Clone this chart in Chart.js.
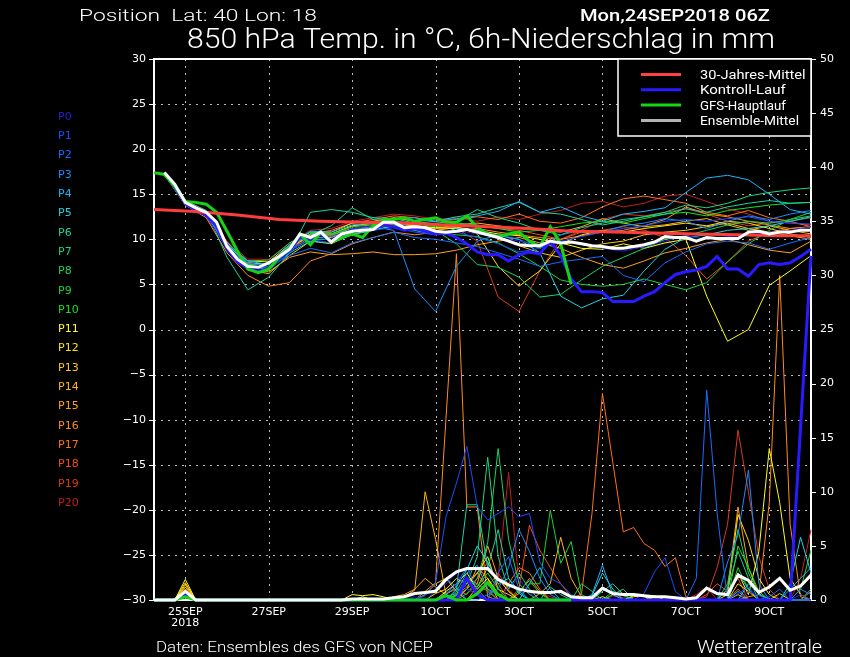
<!DOCTYPE html>
<html>
<head>
<meta charset="utf-8">
<script src="https://cdn.jsdelivr.net/npm/chart.js@4.4.0/dist/chart.umd.min.js"></script>
<style>
  html, body { margin: 0; padding: 0; background: #000; }
  canvas { display: block; }
</style>
</head>
<body>
<canvas id="ens" width="850" height="657"></canvas>
<script>
// time axis: hours after Mon 24SEP2018 06Z
const hours6 = [0,6,12,18,24,30,36,42,48,54,60,66,72,78,84,90,96,102,108,114,120,126,132,138,144,150,156,162,168,174,180,186,192,198,204,210,216,222,228,234,240,246,252,258,264,270,276,282,288,294,300,306,312,318,324,330,336,342,348,354,360,366,372,378];
const hoursM = [6,18,30,42,54,66,78,90,102,114,126,138,150,162,174,186,198,210,222,234,246,258,270,282,294,306,318,330,342,354,366,378];
const xTickHours = [18,66,114,162,210,258,306,354];
const xTickLabels = [['25SEP','2018'],'27SEP','29SEP','1OCT','3OCT','5OCT','7OCT','9OCT'];

// 30-Jahres-Mittel (850 hPa temp)
const climHours = [0,24,48,72,96,120,144,168,192,216,240,264,288,312,336,360,378];
const climTemp = [13.3,13.1,12.7,12.2,12.0,11.9,11.8,11.6,11.4,11.2,10.9,10.8,10.7,10.6,10.5,10.4,10.4];

// Ensemble-Mittel, Kontroll-Lauf, GFS-Hauptlauf (6h steps)
const meanTemp = [null,17.4,16.1,14.1,13.5,13.0,11.9,9.2,7.8,7.0,6.9,7.4,8.1,8.9,10.6,10.2,10.8,9.7,10.6,10.9,11.0,11.1,11.9,11.9,11.3,11.4,11.3,10.9,10.8,10.9,11.1,10.8,10.5,10.2,9.8,9.4,9.3,9.3,9.8,9.6,9.7,9.5,9.3,9.2,9.0,9.0,9.2,9.4,9.7,10.3,10.2,10.2,9.8,10.2,10.1,10.1,10.1,10.8,10.9,10.6,10.8,10.8,11.0,11.0];
const meanRain = [0,0,0,0.8,0,0,0,0, 0,0,0,0,0,0,0,0, 0,0,0,0.1,0.1,0.1,0.1,0.2, 0.3,0.6,0.7,0.8,1.9,2.6,2.9,2.9, 2.9,1.9,1.4,1.0,0.8,0.7,0.7,0.8, 0.3,0.2,0.2,1.1,0.6,0.5,0.5,0.4, 0.3,0.3,0.2,0.1,0.2,1.1,0.6,0.5, 2.3,1.8,0.7,1.2,2.0,0.9,1.3,2.3];
const controlTemp = [null,17.3,16.0,14.0,13.2,12.7,11.5,9.0,7.5,6.8,6.4,6.8,7.8,8.8,10.2,10.0,10.6,9.8,10.5,11.0,11.0,11.2,11.6,11.4,11.0,11.2,10.9,10.6,10.7,10.2,9.5,8.6,8.3,8.3,7.6,8.3,8.6,8.4,9.8,8.2,5.6,4.2,4.2,4.1,3.1,3.1,3.1,3.7,4.2,5.2,6.1,6.4,6.6,7.0,8.1,6.7,6.7,5.9,7.2,7.4,7.2,7.4,8.1,8.9];
const controlRain = [0,0,0,.5,0,0,0,0, 0,0,0,0,0,0,0,0, 0,0,0,0,0,0,0,0, 0,0,0,0,0,0,2,.5, 0,0,0,0,0,0,0,0, 0,0,0,0,0,0,0,0, 0,0,0,0,0,0,0,0, 0,0,0,0,0,0,16,31.8];
const gfsTemp = [17.4,17.2,15.9,14.2,14.1,13.9,13.0,10.9,8.7,6.7,6.3,6.7,8.0,8.9,10.6,9.4,10.8,9.7,10.2,10.6,10.2,11.5,12.2,12.2,12.4,12.0,12.2,12.4,11.9,11.9,12.6,11.3,10.6,10.3,10.6,10.8,9.8,9.2,11.4,9.5,5.0];
const gfsRain = [0,0,0,.3,0,0,0,0, 0,0,0,0,0,0,0,0, 0,0,0,0,0,0,0,0, 0,0,0,0,.4,0,0,.6, 1.6,.5,0,0,0,0,0,0, 0];

// ensemble members P0..P20, temperature every 12h (hoursM)
const memberNames = ['P0','P1','P2','P3','P4','P5','P6','P7','P8','P9','P10','P11','P12','P13','P14','P15','P16','P17','P18','P19','P20'];
const memberColors = ['#2a20d0','#1a4cff','#1a6cff','#1a8cff','#1ab4ff','#1ad4e4','#1ad4a0','#1ad480','#1ad460','#1ad43c','#1ae01a',
  '#ffff1a','#ffe01a','#ffc81a','#ffb41a','#ffa01a','#ff8c1a','#ff701a','#f0501a','#d83a1a','#c02020'];
const memberTemp = [
  [17.2,13.8,12.6,9.0,6.8,6.6,8.6,10.2,10.0,11.2,11.5,11.8,11.2,10.8,11.0,10.6,10.2,9.8,9.5,9.9,9.4,9.0,8.7,9.2,9.8,10.4,10.0,10.3,10.5,10.8,11.0,11.4],
  [17.3,14.1,12.9,9.4,7.0,6.8,8.9,10.0,9.6,10.8,11.0,11.3,10.8,10.5,10.8,10.2,9.5,8.6,9.0,9.8,10.3,10.8,11.2,11.5,12.0,12.2,12.0,12.3,12.5,12.0,11.8,11.7],
  [17.4,14.2,13.0,9.6,7.4,7.0,8.2,9.0,8.5,9.6,10.2,10.8,10.2,10.0,9.6,9.2,8.5,7.8,7.0,7.5,7.8,8.1,6.0,5.3,7.4,8.6,9.5,9.8,9.6,8.9,9.6,10.2],
  [17.3,14.0,12.8,9.2,7.0,6.8,8.8,10.1,10.3,11.0,11.4,11.0,4.5,2.0,7.0,9.8,10.5,10.0,9.0,10.5,11.0,10.8,11.5,11.8,12.3,12.0,11.2,12.0,12.6,12.2,12.8,13.2],
  [17.2,13.9,12.9,9.6,7.6,7.2,9.4,10.9,10.8,11.6,11.8,12.2,12.4,12.0,12.3,12.6,13.1,14.2,13.0,13.6,12.6,12.0,12.8,13.1,13.5,15.2,16.8,17.1,16.6,15.0,13.3,12.8],
  [17.3,14.1,12.9,9.3,7.1,6.6,8.5,9.8,9.6,10.5,11.0,11.5,11.0,10.5,11.2,11.0,10.4,10.0,8.5,3.7,2.4,3.4,3.8,6.5,8.9,10.2,10.5,11.0,11.2,11.5,12.0,12.5],
  [17.4,14.3,13.2,8.0,4.4,5.8,8.5,13.0,13.3,13.0,12.4,12.3,11.8,12.0,12.5,12.8,13.5,14.1,13.0,12.8,12.2,11.6,12.0,12.5,12.8,13.4,13.0,13.6,14.0,14.3,14.0,14.1],
  [17.3,14.0,12.7,9.2,7.3,7.2,9.2,10.5,11.5,13.5,12.2,12.0,11.6,11.8,12.0,13.3,12.4,11.8,11.0,10.5,11.3,11.8,12.2,12.5,13.0,13.8,13.5,14.0,14.8,15.2,15.5,15.7],
  [17.3,14.1,12.9,9.5,7.6,7.7,9.6,10.8,10.5,11.2,11.4,11.8,11.2,11.0,9.5,7.2,6.9,5.8,3.6,3.9,5.5,7.0,8.0,9.0,10.0,10.4,11.0,11.6,12.0,11.8,12.2,12.6],
  [17.2,13.9,12.8,9.3,7.0,6.9,8.7,10.0,10.0,11.0,11.3,11.6,11.0,10.7,10.5,10.3,9.6,8.4,7.0,5.5,5.0,4.8,5.0,5.6,5.0,4.4,5.2,7.5,9.5,11.0,12.2,13.0],
  [17.3,14.0,12.8,9.4,7.2,7.2,9.3,10.6,10.6,11.4,11.6,12.0,11.7,11.4,11.8,11.6,11.2,10.8,11.0,11.4,11.8,12.0,11.8,12.3,12.8,13.0,12.6,13.2,13.5,13.8,14.0,14.1],
  [17.3,14.0,12.8,9.4,7.4,7.2,9.0,10.5,10.6,11.5,11.8,12.0,11.5,11.3,11.2,11.0,10.6,10.4,10.0,9.6,9.0,8.9,9.5,9.0,9.6,10.0,3.7,-1.3,0.0,4.9,6.5,8.2],
  [17.4,14.1,13.0,9.6,7.6,7.5,9.4,10.8,10.8,11.8,12.0,12.4,12.0,11.6,11.4,10.6,7.0,4.8,6.5,9.5,10.5,11.0,10.8,11.2,11.5,11.8,11.5,12.0,11.8,11.2,10.6,10.2],
  [17.2,13.8,12.6,9.0,6.6,6.2,8.2,9.8,9.5,10.6,11.0,11.5,11.2,11.0,11.3,11.0,10.2,9.3,8.5,8.0,8.8,9.5,9.8,10.5,10.8,11.0,11.4,11.8,11.2,10.8,10.4,10.0],
  [17.3,14.0,12.8,9.3,7.0,6.8,8.8,10.2,10.2,11.0,11.4,11.7,11.5,11.2,11.6,11.8,11.5,11.2,11.0,10.8,11.4,12.3,11.8,11.4,11.6,12.0,12.3,11.6,11.0,11.5,11.0,10.6],
  [17.2,13.9,12.7,9.1,6.6,6.4,8.0,8.6,8.3,8.4,8.6,8.3,8.3,8.4,8.8,9.4,9.8,10.2,9.6,9.0,8.0,7.2,6.8,7.6,8.5,9.0,9.6,10.0,9.4,8.8,8.5,9.8],
  [17.2,13.8,12.4,8.5,6.0,4.8,5.2,7.6,8.4,9.5,10.2,10.8,10.5,10.8,11.0,11.2,10.8,10.5,10.2,10.0,10.4,10.8,11.0,11.5,12.2,13.6,12.8,12.5,12.0,11.6,11.2,11.4],
  [17.4,14.2,13.0,9.7,7.4,7.2,9.2,10.6,11.0,11.8,12.2,12.6,12.4,12.0,12.2,12.5,12.2,12.8,12.0,11.8,12.4,13.6,14.5,14.8,14.4,14.0,13.0,12.6,13.2,12.4,12.0,11.4],
  [17.3,14.0,12.8,9.2,7.0,6.9,8.9,10.4,10.4,11.2,11.5,11.8,11.6,11.2,11.3,11.5,11.2,11.0,10.5,10.0,10.8,11.0,11.4,11.0,10.2,8.2,5.6,7.5,9.8,10.8,11.2,11.4],
  [17.3,14.1,12.9,9.5,7.3,7.2,9.0,10.6,10.4,11.4,11.7,12.0,11.8,11.5,11.2,9.8,3.6,2.0,6.5,10.0,11.0,12.2,12.8,12.6,13.0,13.4,12.8,12.0,11.5,11.8,12.0,12.4],
  [17.4,14.3,13.2,9.8,7.8,7.8,9.6,11.0,11.2,12.0,12.4,12.8,12.6,12.2,12.4,12.0,12.5,12.2,12.8,13.2,14.0,14.2,13.6,14.0,14.8,15.0,14.2,13.4,12.8,12.0,11.8,11.6]
];

// ensemble members, 6h precipitation in mm (hours6)
const memberRain = [
  [0,0,0,.5,0,0,0,0, 0,0,0,0,0,0,0,0, 0,0,0,0,0,0,0,0, 0,.3,0,.8,1.5,2.5,1,.5, 0,0,1.2,2,.6,0,0,0, 0,0,0,0,0,0,0,0, 0,0,0,0,.3,0,0,0, 0,.8,.4,0,0,0,.5,0],
  [0,0,0,.6,0,0,0,0, 0,0,0,0,0,0,0,0, 0,0,0,0,0,0,0,0, 0,0,.4,1.6,7.7,10.8,14.2,8.6, 7.4,8,8.6,7.7,8,3.5,2,1.5, .5,0,0,0,0,0,0,.6, 2.6,3.9,.8,0,0,0,0,0, .6,1.2,0,0,0,0,0,0],
  [0,0,0,.5,0,0,0,0, 0,0,0,0,0,0,0,0, 0,0,0,0,0,0,0,0, 0,0,0,0,.6,1.5,3,1, 0,2.5,4,1,0,0,0,0, 0,0,0,0,0,0,0,0, 0,0,0,0,2,19.4,8,0, 0,0,0,.3,1,0,0,0],
  [0,0,0,.4,0,0,0,0, 0,0,0,0,0,0,0,0, 0,0,0,0,0,0,0,0, 0,0,.5,1,2,1.2,0,0, .5,1,3,6.5,4.5,2,.5,0, 0,0,0,0,0,0,0,0, 0,0,0,0,0,0,0,3.5, 6,12,1.5,0,0,0,1,.5],
  [0,0,0,.5,0,0,0,0, 0,0,0,0,0,0,0,0, 0,0,0,0,0,0,0,0, 0,0,0,0,0,.8,2.5,3.2, 1,.5,0,0,1.5,3,1,0, 0,0,.5,3.2,.5,0,0,0, 0,0,0,0,0,0,0,0, .8,0,0,0,0,1,2,3],
  [0,0,0,.6,0,0,0,0, 0,0,0,0,0,0,0,0, 0,0,0,0,0,0,0,0, 0,0,0,0,.5,1.2,2.8,5, 3.5,1.5,2,.6,0,0,0,0, 0,0,.4,2.5,1,0,0,0, 0,0,0,0,0,0,0,0, 0,1.5,.6,0,0,1.5,5.8,2.5],
  [0,0,0,.7,0,0,0,0, 0,0,0,0,0,0,0,0, 0,0,0,0,0,0,0,0, 0,0,0,0,0,1,8.8,8.8, 3,6.5,2,.8,0,0,1.2,.5, 0,0,0,.8,1.5,.5,0,0, 0,0,0,0,0,0,0,0, 2.5,1,0,0,0,0,0,0],
  [0,0,0,.5,0,0,0,0, 0,0,0,0,0,0,0,0, 0,0,0,0,0,0,0,0, 0,0,0,0,0,.5,1.5,4, 13.2,4,1,2.5,1,0,0,0, 0,0,0,0,.5,1,0,0, 0,0,0,0,0,0,0,1, 4.5,2,0,0,0,0,0,1],
  [0,0,0,.6,0,0,0,0, 0,0,0,0,0,0,0,0, 0,0,0,0,0,0,0,0, 0,0,0,0,0,.4,1,2, 5.3,14,5.6,1.5,.5,0,0,0, 0,1.5,.8,0,0,0,0,0, 0,0,0,0,0,0,0,1.5, 6.5,2.5,.5,0,0,0,0,0],
  [0,0,0,.5,0,0,0,0, 0,0,0,0,0,0,0,0, 0,0,0,0,0,0,0,0, 0,0,0,0,0,0,.6,1.5, .8,0,0,0,1.5,1.5,8.3,3.4, 5.4,.5,0,0,0,0,0,0, 0,0,0,0,0,0,0,0, 3,1,0,0,0,0,1,4.6],
  [0,0,0,.7,0,0,0,0, 0,0,0,0,0,0,0,0, 0,0,0,0,0,0,0,0, 0,0,0,0,.3,.6,2,1.2, 2.5,1,0,.8,1.8,.6,0,0, 0,0,0,0,.8,.4,0,0, 0,0,0,0,0,0,0,0, 5,3,.8,0,0,0,0,0],
  [0,0,0,1.9,0,0,0,0, 0,0,0,0,0,0,0,0, 0,0,0,.5,.4,.5,.3,0, 0,0,0,0,.8,1.5,2.5,1, 2,.6,0,0,0,0,0,0, 0,0,0,.3,0,0,.3,.4, 0,0,0,0,0,0,0,0, 2.5,.5,4.5,14,9,2,.5,0],
  [0,0,0,1.6,0,0,0,0, 0,0,0,0,0,0,0,0, 0,0,0,0,.3,0,0,0, 0,0,0,.6,1,2,1.5,2.5, 4,1,.5,0,0,0,0,0, 0,0,0,0,0,0,0,0, .4,0,0,0,0,0,0,.5, 7.9,5.5,2,.5,0,0,0,0],
  [0,0,0,1.4,0,0,0,0, 0,0,0,0,0,0,0,0, 0,0,0,0,0,0,0,0, 0,0,.5,1.5,2,.8,0,1.2, 3,2,.8,0,0,0,0,0, 0,0,0,0,0,0,.4,.3, 0,0,0,0,0,0,0,0, 1.5,.8,0,0,.6,0,0,0],
  [0,0,0,1.2,0,0,0,0, 0,0,0,0,0,0,0,0, 0,0,0,0,0,0,0,0, .3,.9,10,5.6,.5,0,1,3, 2,0,0,0,0,.6,1.5,5.8, 2,.3,0,0,0,0,0,0, 0,0,0,0,0,0,0,0, .5,0,0,0,0,0,0,0],
  [0,0,0,1,0,0,0,0, 0,0,0,0,0,0,0,0, 0,0,0,0,0,0,0,.3, .5,1,2,1.2,.5,0,2,1.5, 5,2,.8,0,0,0,0,0, 0,0,0,0,0,0,0,0, 0,0,0,0,0,0,0,1, 8.6,3,.5,0,0,0,0,0],
  [0,0,0,1.2,0,0,0,0, 0,0,0,0,0,0,0,0, 0,0,0,0,0,0,0,0, 0,0,.8,1.6,16.8,32,8.6,8.6, .3,0,0,.6,2,.8,0,0, 0,0,0,0,0,0,0,0, 0,0,0,0,0,0,0,0, 0,.3,.5,9,30,7,.3,0],
  [0,0,0,1,0,0,0,0, 0,0,0,0,0,0,0,0, 0,0,0,0,0,0,0,0, 0,0,0,0,0,.5,1.2,2.5, 1,0,1.5,3,2.5,1,0,0, 0,.6,8,19.1,12.7,6.3,6.7,5.2, 4.6,3.1,3.9,.3,0,0,0,0, 1,0,0,0,0,0,0,0],
  [0,0,0,.9,0,0,0,0, 0,0,0,0,0,0,0,0, 0,0,0,0,0,0,0,0, 0,0,0,0,.6,1,.5,2, 3.5,1.5,0,1,6.9,4.6,3,1.5, .3,0,0,0,0,0,0,0, 0,0,0,0,0,.5,1.5,.8, 2,0,0,0,0,0,0,.8],
  [0,0,0,.8,0,0,0,0, 0,0,0,0,0,0,0,0, 0,0,0,0,0,0,0,0, 0,0,0,0,0,.4,1,.6, 1.2,2.5,1,0,0,0,0,0, 0,0,0,0,.4,.2,0,0, 0,0,0,0,0,.3,3,7, 15.7,10,4,1,0,0,0,0],
  [0,0,0,.7,0,0,0,0, 0,0,0,0,0,0,0,0, 0,0,0,0,0,0,0,0, 0,0,0,0,.5,1.5,2,.8, 0,2,11.8,1.5,.5,.8,.3,0, 0,0,0,0,0,0,0,0, 0,0,0,0,.5,1.2,0,0, 0,0,0,0,0,0,2,6.5]
];

const legendLabels = ['30-Jahres-Mittel','Kontroll-Lauf','GFS-Hauptlauf','Ensemble-Mittel'];
const legendColors = ['#ff4040','#2a1aff','#14d414','#b4b4b4'];

const FONT = '"DejaVu Sans", sans-serif';
const THIN = 'Roboto, "Liberation Sans", sans-serif';
Chart.defaults.font.family = FONT;
Chart.defaults.color = '#ffffff';

function toPoints(xs, ys) {
  return ys.map((y, i) => ({x: xs[i], y: y})).filter(p => p.y !== null);
}

const datasets = [];
datasets.push({data: toPoints(hours6, meanTemp), borderColor: '#ffffff', borderWidth: 3, yAxisID: 'y', order: 0});
datasets.push({data: toPoints(hours6, meanRain), borderColor: '#ffffff', borderWidth: 3, yAxisID: 'y2', order: 0});
datasets.push({data: toPoints(climHours, climTemp), borderColor: '#ff3c3c', borderWidth: 3, yAxisID: 'y', order: 1});
datasets.push({data: toPoints(hours6, gfsTemp), borderColor: '#14d414', borderWidth: 3, yAxisID: 'y', order: 2});
datasets.push({data: toPoints(hours6, gfsRain), borderColor: '#14d414', borderWidth: 3, yAxisID: 'y2', order: 2});
datasets.push({data: toPoints(hours6, controlTemp), borderColor: '#2a1aff', borderWidth: 3, yAxisID: 'y', order: 3});
datasets.push({data: toPoints(hours6, controlRain), borderColor: '#2a1aff', borderWidth: 3, yAxisID: 'y2', order: 3});
memberTemp.forEach((vals, i) => {
  datasets.push({data: toPoints(hoursM, vals), borderColor: memberColors[i], borderWidth: 1, yAxisID: 'y', order: 10});
});
memberRain.forEach((vals, i) => {
  datasets.push({data: toPoints(hours6, vals), borderColor: memberColors[i], borderWidth: 1, yAxisID: 'y2', order: 11});
});

// stretch text horizontally so it covers the given width
function fitText(ctx, text, x, y, w, size, color, weight, family) {
  ctx.save();
  ctx.font = (weight || 'normal') + ' ' + size + 'px ' + (family || THIN);
  const m = ctx.measureText(text).width;
  ctx.translate(x, y);
  ctx.scale(w / m, 1);
  ctx.fillStyle = color;
  ctx.textAlign = 'left';
  ctx.textBaseline = 'alphabetic';
  ctx.fillText(text, 0, 0);
  ctx.restore();
}

const decor = {
  id: 'decor',
  beforeDatasetsDraw(chart) {
    const {ctx, chartArea: a, scales} = chart;
    ctx.save();
    ctx.strokeStyle = '#b8b8b8';
    ctx.lineWidth = 1;
    ctx.setLineDash([2, 5]);
    xTickHours.forEach(h => {
      const x = Math.round(scales.x.getPixelForValue(h)) + 0.5;
      ctx.beginPath(); ctx.moveTo(x, a.top); ctx.lineTo(x, a.bottom); ctx.stroke();
    });
    scales.y.ticks.forEach(t => {
      if (t.value <= -30 || t.value >= 30) return;
      const y = Math.round(scales.y.getPixelForValue(t.value)) + 0.5;
      ctx.beginPath(); ctx.moveTo(a.left, y); ctx.lineTo(a.right, y); ctx.stroke();
    });
    ctx.setLineDash([]);
    // frame
    ctx.strokeStyle = '#ffffff';
    ctx.lineWidth = 2;
    ctx.strokeRect(a.left, a.top, a.right - a.left, a.bottom - a.top);
    // small tick marks
    ctx.lineWidth = 1;
    scales.y.ticks.forEach(t => {
      const y = Math.round(scales.y.getPixelForValue(t.value)) + 0.5;
      ctx.beginPath(); ctx.moveTo(a.left - 5, y); ctx.lineTo(a.left, y); ctx.stroke();
    });
    scales.y2.ticks.forEach(t => {
      const y = Math.round(scales.y2.getPixelForValue(t.value)) + 0.5;
      ctx.beginPath(); ctx.moveTo(a.right, y); ctx.lineTo(a.right + 5, y); ctx.stroke();
    });
    ctx.restore();
  },
  afterDatasetsDraw(chart) {
    const {ctx, chartArea: a} = chart;
    ctx.save();
    // legend box
    const bx = 618, by = a.top, bw = a.right - 618, bh = 77;
    ctx.fillStyle = '#000';
    ctx.fillRect(bx, by, bw, bh);
    ctx.strokeStyle = '#fff';
    ctx.lineWidth = 1.5;
    ctx.strokeRect(bx, by, bw, bh);
    legendLabels.forEach((lab, i) => {
      const y = by + 15.5 + i * 15.3;
      ctx.strokeStyle = legendColors[i];
      ctx.lineWidth = 3;
      ctx.beginPath(); ctx.moveTo(641, y); ctx.lineTo(681, y); ctx.stroke();
      fitText(ctx, lab, 700, y + 4.5, lab.length * 6.6, 12, '#ffffff');
    });
    // member names
    ctx.font = '11px ' + FONT;
    ctx.textAlign = 'left';
    ctx.textBaseline = 'middle';
    memberNames.forEach((n, i) => {
      ctx.fillStyle = memberColors[i];
      ctx.fillText(n, 58, 117 + i * 19.3);
    });
    ctx.restore();
  },
  afterDraw(chart) {
    const ctx = chart.ctx;
    fitText(ctx, 'Position  Lat: 40 Lon: 18', 79, 21, 238, 17, '#ffffff', '300');
    fitText(ctx, 'Mon,24SEP2018 06Z', 580, 21, 190, 17, '#ffffff', '500');
    fitText(ctx, '850 hPa Temp. in \u00B0C, 6h-Niederschlag in mm', 187, 48, 588, 27, '#ffffff', '300');
    fitText(ctx, 'Daten: Ensembles des GFS von NCEP', 156, 652, 277, 14, '#ffffff', '300');
    fitText(ctx, 'Wetterzentrale', 697, 653, 125, 18, '#ffffff', '300');
  }
};

new Chart(document.getElementById('ens').getContext('2d'), {
  type: 'line',
  data: {datasets: datasets},
  options: {
    responsive: false,
    animation: false,
    devicePixelRatio: 1,
    layout: {padding: {top: 59, left: 0, right: 0, bottom: 0}},
    elements: {
      point: {radius: 0, hoverRadius: 0},
      line: {tension: 0, fill: false}
    },
    datasets: {line: {clip: false}},
    plugins: {legend: {display: false}, tooltip: {enabled: false}},
    scales: {
      x: {
        type: 'linear', min: 0, max: 378, position: 'bottom',
        grid: {display: false, drawTicks: false}, border: {display: false},
        afterBuildTicks: s => { s.ticks = xTickHours.map(v => ({value: v})); },
        afterFit: s => { s.height = 57; },
        ticks: {
          color: '#fff', font: {size: 11, lineHeight: 1.0}, padding: 7,
          autoSkip: false, maxRotation: 0, minRotation: 0,
          callback: v => xTickLabels[xTickHours.indexOf(v)]
        }
      },
      y: {
        position: 'left', min: -30, max: 30,
        grid: {display: false, drawTicks: false}, border: {display: false},
        afterFit: s => { s.width = 154; },
        ticks: {stepSize: 5, color: '#fff', font: {size: 11}, padding: 8,
          callback: v => v < 0 ? '\u2212' + Math.abs(v) : String(v)}
      },
      y2: {
        position: 'right', min: 0, max: 50,
        grid: {display: false, drawTicks: false}, border: {display: false},
        afterFit: s => { s.width = 39; },
        ticks: {stepSize: 5, color: '#fff', font: {size: 11}, padding: 9}
      }
    }
  },
  plugins: [decor]
});
</script>
</body>
</html>
